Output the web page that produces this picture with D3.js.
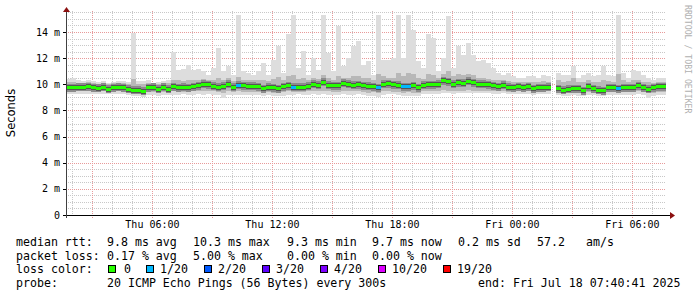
<!DOCTYPE html>
<html><head><meta charset="utf-8">
<script src="https://cdn.jsdelivr.net/npm/d3@7"></script>
<style>body{margin:0;background:#fff}svg{display:block}</style>
</head><body><svg id="c" width="697" height="297"></svg>
<script>
// ---------------- data ----------------
const startTime = new Date(2025, 6, 17, 1, 40, 41);
const endTime   = new Date(2025, 6, 18, 7, 40, 41);
const stepMinutes = 15;

const median = [9.72,9.72,9.77,9.79,9.82,9.72,9.69,9.77,9.64,9.72,9.77,9.72,9.62,9.56,9.56,9.46,9.72,9.77,9.62,9.77,
9.64,9.82,9.72,9.79,9.72,9.82,9.90,10.02,9.97,9.84,9.79,9.84,10.0,9.77,9.92,9.90,9.84,9.84,9.82,9.67,
9.79,9.72,9.67,9.82,9.90,9.77,9.77,9.77,9.84,10.02,9.92,10.15,9.92,9.87,9.87,10.07,10.02,9.92,9.97,9.87,
9.84,9.82,9.72,10.02,10.05,9.97,9.92,9.82,9.82,9.87,9.72,9.92,9.97,9.97,10.02,10.28,10.18,10.02,10.13,10.07,
10.23,10.10,10.02,10.02,9.97,9.87,9.82,9.92,9.77,9.72,9.82,9.72,9.82,9.67,9.72,9.72,9.77,null,9.67,9.56,
9.62,9.67,9.67,9.51,9.82,9.67,9.56,9.51,9.72,9.72,9.67,9.72,9.72,9.72,9.87,9.72,9.62,9.72,9.82,9.82];

const maxv = [10.43,10.48,10.35,10.28,10.35,10.23,10.18,10.23,10.10,10.18,10.23,10.23,10.18,13.9,10.23,10.28,10.35,10.10,10.18,10.28,
10.35,12.45,11.06,11.2,11.5,11.06,11.2,11.0,10.74,11.25,12.8,11.0,11.37,10.74,15.28,11.0,10.86,10.74,11.0,11.63,
10.74,11.89,12.9,10.86,13.81,15.33,11.25,12.52,10.74,12.01,11.12,15.28,12.39,11.0,14.43,11.37,12.01,12.9,13.29,11.5,
11.76,10.74,15.33,11.89,11.89,12.01,15.33,12.01,15.33,14.18,11.76,11.25,13.81,13.55,11.0,12.01,15.2,11.25,12.9,12.27,
13.16,12.27,11.76,11.89,11.63,11.25,10.86,10.74,10.86,10.61,10.48,10.48,10.61,10.61,10.48,10.74,10.61,null,10.86,10.74,
10.74,11.37,10.48,10.74,10.86,10.61,10.74,11.37,10.74,10.61,15.33,10.86,10.48,11.12,11.0,10.74,10.48,10.35,10.48,10.48];

const hi = [10.15,10.18,10.12,10.1,10.15,10.08,10.05,10.1,10.02,10.08,10.1,10.08,10.05,10.4,10.05,10.0,10.1,10.05,10.02,10.08,
10.1,10.3,10.3,10.25,10.35,10.3,10.35,10.4,10.35,10.3,10.45,10.3,10.45,10.25,10.55,10.35,10.3,10.3,10.3,10.35,
10.25,10.4,10.55,10.3,10.6,10.7,10.4,10.5,10.3,10.5,10.4,10.7,10.5,10.35,10.6,10.45,10.5,10.6,10.6,10.45,
10.5,10.3,10.8,10.6,10.5,10.5,10.9,10.6,10.9,10.8,10.5,10.4,10.8,10.7,10.5,10.8,11.0,10.6,10.8,10.7,
10.8,10.7,10.5,10.5,10.4,10.35,10.3,10.3,10.25,10.2,10.15,10.15,10.2,10.15,10.15,10.25,10.2,null,10.3,10.2,
10.25,10.45,10.15,10.2,10.3,10.15,10.2,10.35,10.25,10.2,10.8,10.3,10.2,10.35,10.3,10.2,10.15,10.1,10.2,10.2];

const lo = [9.45,9.42,9.48,9.46,9.45,9.44,9.42,9.46,9.4,9.44,9.46,9.44,9.38,9.3,9.32,9.25,9.4,9.42,9.36,9.44,
9.38,9.45,9.42,9.44,9.42,9.45,9.48,9.5,9.48,9.45,9.42,9.3,9.48,9.4,9.45,9.44,9.42,9.44,9.42,9.35,
9.42,9.35,9.32,9.38,9.45,9.42,9.44,9.42,9.45,9.5,9.46,9.5,9.45,9.44,9.42,9.5,9.48,9.45,9.46,9.44,
9.35,9.38,9.3,9.45,9.48,9.44,9.42,9.35,9.38,9.35,9.32,9.45,9.48,9.47,9.5,9.55,9.52,9.5,9.52,9.5,
9.55,9.52,9.5,9.52,9.5,9.48,9.45,9.48,9.44,9.42,9.46,9.42,9.46,9.4,9.44,9.42,9.45,null,9.38,9.32,
9.35,9.38,9.36,9.3,9.42,9.38,9.32,9.3,9.4,9.42,9.4,9.4,9.42,9.4,9.45,9.38,9.3,9.36,9.42,9.44];

const minv = [9.26,9.24,9.28,9.26,9.22,9.26,9.24,9.28,9.22,9.26,9.24,9.26,9.2,9.1,9.12,9.05,9.15,9.18,9.14,9.2,
9.16,9.2,9.18,9.22,9.2,9.21,9.24,9.2,9.22,9.18,9.2,8.95,9.18,9.15,9.2,9.18,9.16,9.2,9.18,9.12,
9.18,9.1,9.08,9.12,9.2,9.18,9.22,9.2,9.21,9.24,9.2,9.22,9.18,9.2,9.16,9.24,9.2,9.18,9.22,9.2,
9.1,9.12,9.05,9.2,9.24,9.22,9.2,9.1,9.12,9.08,9.1,9.26,9.22,9.28,9.24,9.33,9.3,9.28,9.32,9.3,
9.35,9.33,9.3,9.32,9.3,9.28,9.26,9.3,9.24,9.22,9.26,9.22,9.26,9.2,9.24,9.22,9.26,null,9.15,9.1,
9.12,9.15,9.12,9.08,9.2,9.15,9.12,9.1,9.18,9.2,9.2,9.18,9.2,9.18,9.22,9.15,8.98,9.1,9.18,9.2];

// loss index per step (index into lossLabels)
const loss = [0,0,0,0,0,0,0,0,0,0,0,0,0,0,0,0,0,0,0,0,
0,0,0,0,0,0,0,0,0,0,0,0,0,0,1,0,0,0,0,0,
0,0,0,0,0,1,0,0,0,0,0,0,0,0,0,0,0,0,0,0,
0,0,1,0,0,0,0,1,1,0,0,0,0,0,0,0,0,0,0,0,
0,0,0,0,0,0,0,0,0,0,0,0,0,0,0,0,0,0,0,0,
0,0,0,0,0,0,0,0,0,0,1,0,0,0,0,0,0,0,0,0];

const lossLabels = ["0","1/20","2/20","3/20","4/20","10/20","19/20"];
const lossColors = ["#26ff00","#00b8ff","#0059ff","#5e00ff","#7e00ff","#dd00ff","#ff0000"];

const yTickValues = [0,2,4,6,8,10,12,14];
const yTickLabels = ["0","2 m","4 m","6 m","8 m","10 m","12 m","14 m"];

const legendRows = [
  {label:"median rtt:", items:[["9.8 ms avg",107],["10.3 ms max",193],["9.3 ms min",287],["9.7 ms now",372],["0.2 ms sd",458],["57.2",537],["am/s",586]]},
  {label:"packet loss:", items:[["0.17 % avg",107],["5.00 % max",193],["0.00 % min",287],["0.00 % now",372]]},
  {label:"loss color:", items:[]},
  {label:"probe:", items:[["20 ICMP Echo Pings (56 Bytes) every 300s",107],["end: Fri Jul 18 07:40:41 2025",478]]}
];
const lossBoxX = [108,146,204,262,320,378,443];
const lossTextX = [124,160,218,276,334,392,457];

// ---------------- drawing ----------------
const svg = d3.select("#c");
svg.append("rect").attr("width",697).attr("height",297).attr("fill","#fff");

const L = 66, R = 666, B = 215;
const x = d3.scaleTime().domain([startTime, endTime]).range([L, R]);
const y = d3.scaleLinear().domain([0, 15.6]).range([B, 11.1]);

const mono = "'DejaVu Sans Mono', monospace";
const times = median.map((d,i) => new Date(startTime.getTime() + i*stepMinutes*60000));
const tEnd = i => new Date(startTime.getTime() + (i+1)*stepMinutes*60000);

// grid
const g = svg.append("g");
const minorY = d3.range(0.5, 15.6, 0.5).filter(v => Math.abs(v/2 - Math.round(v/2)) > 1e-6);
g.selectAll(".hy").data(minorY).join("line")
  .attr("x1",L).attr("x2",R).attr("y1",d=>Math.round(y(d))+0.5).attr("y2",d=>Math.round(y(d))+0.5)
  .attr("stroke","#c8c8c8").attr("stroke-dasharray","1,1");
const hours = d3.timeHour.range(startTime, endTime);
g.selectAll(".vx").data(hours.filter(h => h.getHours()%3 !== 0)).join("line")
  .attr("x1",d=>Math.round(x(d))+0.5).attr("x2",d=>Math.round(x(d))+0.5).attr("y1",11).attr("y2",B)
  .attr("stroke","#c8c8c8").attr("stroke-dasharray","1,1");
g.selectAll(".my").data(yTickValues.slice(1)).join("line")
  .attr("x1",L).attr("x2",R).attr("y1",d=>Math.round(y(d))+0.5).attr("y2",d=>Math.round(y(d))+0.5)
  .attr("stroke","#e89a9a").attr("stroke-dasharray","1,1");
g.selectAll(".mx").data(hours.filter(h => h.getHours()%3 === 0)).join("line")
  .attr("x1",d=>Math.round(x(d))+0.5).attr("x2",d=>Math.round(x(d))+0.5).attr("y1",11).attr("y2",B+3)
  .attr("stroke","#e89a9a").attr("stroke-dasharray","1,1");

// smoke
const idx = d3.range(median.length).filter(i => median[i] !== null);
const band = (lowArr, highArr, color) => svg.append("g").selectAll("rect").data(idx).join("rect")
  .attr("x", i => x(times[i])).attr("width", i => x(tEnd(i)) - x(times[i]))
  .attr("y", i => y(highArr[i])).attr("height", i => y(lowArr[i]) - y(highArr[i]))
  .attr("fill", color).attr("shape-rendering","crispEdges");
band(minv, maxv, "#dddddd");
band(lo, hi, "#b8b8b8");
// dark core around median
svg.append("g").selectAll("rect").data(idx).join("rect")
  .attr("x", i => x(times[i])).attr("width", i => x(tEnd(i)) - x(times[i]))
  .attr("y", i => y(median[i]) - 4).attr("height", 8)
  .attr("fill", "#8c8c8c").attr("shape-rendering","crispEdges");
svg.append("g").selectAll("rect").data(idx).join("rect")
  .attr("x", i => x(times[i])).attr("width", i => x(tEnd(i)) - x(times[i]))
  .attr("y", i => y(median[i]) - 2.5).attr("height", 5)
  .attr("fill", "#555555").attr("shape-rendering","crispEdges");
// median line coloured by loss
svg.append("g").selectAll("rect").data(idx).join("rect")
  .attr("x", i => x(times[i])).attr("width", i => x(tEnd(i)) - x(times[i]))
  .attr("y", i => y(median[i]) - 1.5).attr("height", 3)
  .attr("fill", i => lossColors[loss[i]]).attr("shape-rendering","crispEdges");

// axes
svg.append("line").attr("x1",63).attr("x2",670).attr("y1",B+0.5).attr("y2",B+0.5).attr("stroke","#000");
svg.append("line").attr("x1",L+0.5).attr("x2",L+0.5).attr("y1",B+3).attr("y2",10).attr("stroke","#404040");
svg.append("path").attr("d",`M670,${B-3}L675,${B+0.5}L670,${B+4}Z`).attr("fill","#8b1010");
svg.append("path").attr("d",`M${L-3},12L${L+0.5},7L${L+4},12Z`).attr("fill","#8b1010");
// y ticks + labels
svg.selectAll(".yt").data(yTickValues).join("line")
  .attr("x1",L-3).attr("x2",L).attr("y1",d=>Math.round(y(d))+0.5).attr("y2",d=>Math.round(y(d))+0.5).attr("stroke","#000");
svg.selectAll(".yl").data(yTickValues).join("text")
  .attr("x",60).attr("y",d=>y(d)+3.5).attr("text-anchor","end")
  .attr("font-family",mono).attr("font-size","10px").attr("fill","#000")
  .text((d,i)=>yTickLabels[i]);
// x labels
const fmt = d3.timeFormat("%a %H:%M");
svg.selectAll(".xl").data(hours.filter(h => h.getHours()%6 === 0)).join("text")
  .attr("x",d=>x(d)).attr("y",228).attr("text-anchor","middle")
  .attr("font-family",mono).attr("font-size","10px").attr("fill","#000")
  .text(d=>fmt(d));

// y title
svg.append("text").attr("transform","translate(15,113) rotate(-90)").attr("text-anchor","middle")
  .attr("font-family","'DejaVu Sans', sans-serif").attr("font-size","11.5px").attr("fill","#000").text("Seconds");
// watermark
svg.append("text").attr("transform","translate(685,5) rotate(90)").attr("text-anchor","start")
  .attr("font-family",mono).attr("font-size","8.2px").attr("fill","#b0b0b0").text("RRDTOOL / TOBI OETIKER");

// legend
const rowY = [246,259.5,273,287];
legendRows.forEach((row, r) => {
  svg.append("text").attr("x",16).attr("y",rowY[r]).attr("font-family",mono).attr("font-size","11.6px")
    .attr("xml:space","preserve").text(row.label);
  row.items.forEach(([t, xx]) => {
    svg.append("text").attr("x",xx).attr("y",rowY[r]).attr("font-family",mono).attr("font-size","11.6px").text(t);
  });
});
lossLabels.forEach((lab, i) => {
  svg.append("rect").attr("x",lossBoxX[i]+0.5).attr("y",265.5).attr("width",7).attr("height",7)
    .attr("fill",lossColors[i]).attr("stroke","#000");
  svg.append("text").attr("x",lossTextX[i]).attr("y",rowY[2]).attr("font-family",mono).attr("font-size","11.6px").text(lab);
});
</script></body></html>
